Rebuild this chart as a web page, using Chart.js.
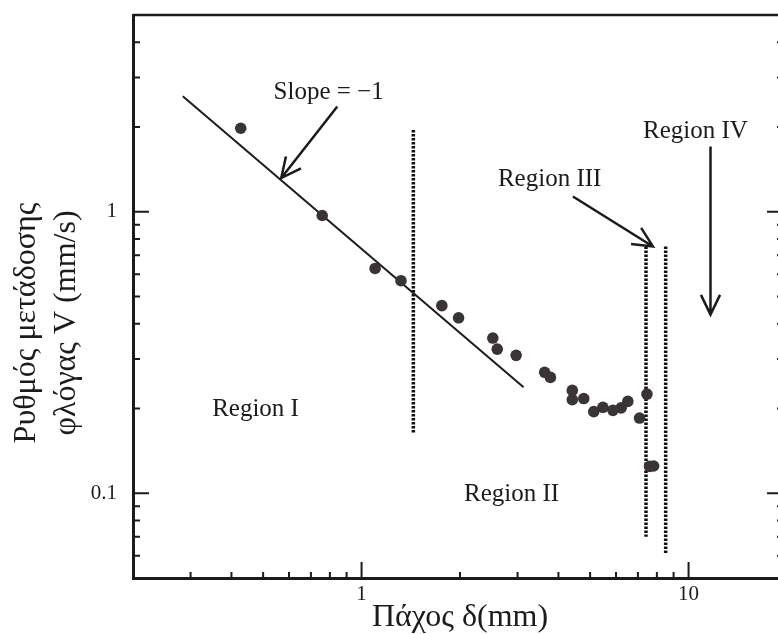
<!DOCTYPE html>
<html>
<head>
<meta charset="utf-8">
<script src="https://cdn.jsdelivr.net/npm/chart.js@4.4.1/dist/chart.umd.min.js"></script>
<style>
  html, body { margin: 0; padding: 0; background: #fff; }
  #wrap { width: 778px; height: 634px; overflow: hidden; }
  canvas { display: block; }
</style>
</head>
<body>
<div id="wrap"><canvas id="flameChart" width="800" height="634"></canvas></div>
<script>
// πάχος δ (mm) και ρυθμός V (mm/s), διαβασμένα από το διάγραμμα
const thickness  = [0.427, 0.758, 1.10, 1.32, 1.76, 1.98, 2.52, 2.60, 2.97, 3.63, 3.78, 4.41,
                    4.41, 4.78, 5.13, 5.47, 5.87, 6.22, 6.52, 7.08, 7.46, 7.60, 7.82];
const spreadRate = [1.98, 0.97, 0.629, 0.569, 0.464, 0.42, 0.356, 0.325, 0.309, 0.269, 0.258, 0.232,
                    0.215, 0.217, 0.195, 0.202, 0.197, 0.201, 0.212, 0.185, 0.225, 0.1246, 0.125];

// ευθεία κλίσης -1
const slopeX = [0.284, 3.13];
const slopeY = [2.57, 0.238];

// διακεκομμένα όρια περιοχών
const boundaryX      = [1.44, 7.41, 8.51];
const boundaryTop    = [1.95, 0.753, 0.753];
const boundaryBottom = [0.164, 0.070, 0.0614];

// υποδιαιρέσεις αξόνων
const xTicks = [0.2, 0.3, 0.4, 0.5, 0.6, 0.7, 0.8, 0.9, 1, 2, 3, 4, 5, 6, 7, 8, 9, 10, 20];
const yTicks = [0.05, 0.06, 0.07, 0.08, 0.09, 0.1, 0.2, 0.3, 0.4, 0.5, 0.6, 0.7, 0.8, 0.9, 1, 2, 3, 4, 5];

// κείμενα και βέλη (σε μονάδες δεδομένων)
const notes = [
  { text: "Slope = \u22121", x: 0.793, y: 2.646 },
  { text: "Region III", x: 3.76, y: 1.30 },
  { text: "Region IV", x: 10.5, y: 1.93 },
  { text: "Region I", x: 0.474, y: 0.198 },
  { text: "Region II", x: 2.875, y: 0.0989 }
];
const arrows = [
  { from: [0.843, 2.366], to: [0.568, 1.317] },
  { from: [4.43, 1.133], to: [7.78, 0.753] },
  { from: [11.67, 1.705], to: [11.67, 0.431] }
];

const INK = "#1c1a1a";
const SERIF = "'Liberation Serif', 'DejaVu Serif', serif";
const TICK_SIZE = 21;
const isDecade = v => Math.abs(Math.log10(v) - Math.round(Math.log10(v))) < 1e-6;

function drawArrow(ctx, x1, y1, x2, y2) {
  const a = Math.atan2(y2 - y1, x2 - x1);
  const len = 22, spread = Math.PI / 7;
  ctx.beginPath();
  ctx.moveTo(x1, y1);
  ctx.lineTo(x2, y2);
  ctx.moveTo(x2 - len * Math.cos(a - spread), y2 - len * Math.sin(a - spread));
  ctx.lineTo(x2, y2);
  ctx.lineTo(x2 - len * Math.cos(a + spread), y2 - len * Math.sin(a + spread));
  ctx.stroke();
}

// πλαίσιο, εσωτερικές υποδιαιρέσεις, σημειώσεις, τίτλος άξονα y
const framePlugin = {
  id: "frame",
  afterDraw(chart) {
    const { ctx, chartArea: ca, scales: { x, y } } = chart;
    ctx.save();
    ctx.strokeStyle = INK;
    ctx.lineWidth = 2.5;
    ctx.beginPath();
    ctx.moveTo(ca.left, ca.top); ctx.lineTo(ca.right, ca.top);
    ctx.moveTo(ca.right, ca.top); ctx.lineTo(ca.right, ca.bottom);
    ctx.stroke();

    ctx.lineWidth = 2;
    ctx.beginPath();
    x.ticks.forEach(t => {
      const px = x.getPixelForValue(t.value);
      const len = isDecade(t.value) ? 16 : 6;
      ctx.moveTo(px, ca.bottom); ctx.lineTo(px, ca.bottom - len);
    });
    y.ticks.forEach(t => {
      const py = y.getPixelForValue(t.value);
      const big = isDecade(t.value);
      ctx.moveTo(ca.left, py); ctx.lineTo(ca.left + (big ? 16 : 7), py);
      ctx.moveTo(ca.right, py); ctx.lineTo(ca.right - (big ? 20 : 10), py);
    });
    ctx.stroke();

    ctx.lineWidth = 2.5;
    arrows.forEach(a => {
      drawArrow(ctx,
        x.getPixelForValue(a.from[0]), y.getPixelForValue(a.from[1]),
        x.getPixelForValue(a.to[0]), y.getPixelForValue(a.to[1]));
    });

    ctx.fillStyle = INK;
    ctx.font = "25px " + SERIF;
    ctx.textAlign = "center";
    ctx.textBaseline = "middle";
    notes.forEach(n => {
      ctx.fillText(n.text, x.getPixelForValue(n.x), y.getPixelForValue(n.y));
    });

    ctx.font = "32px " + SERIF;
    ctx.translate(0, 323);
    ctx.rotate(-Math.PI / 2);
    ctx.fillText("Ρυθμός μετάδοσης", 0, 27);
    ctx.fillText("φλόγας V (mm/s)", 0, 67);
    ctx.restore();
  }
};

const dataPoints = thickness.map((v, i) => ({ x: v, y: spreadRate[i] }));
const slopeLine = slopeX.map((v, i) => ({ x: v, y: slopeY[i] }));
const boundaries = boundaryX.map((v, i) => ({
  type: "line",
  data: [{ x: v, y: boundaryTop[i] }, { x: v, y: boundaryBottom[i] }],
  borderColor: "#111",
  borderWidth: 3.5,
  borderDash: [2.5, 1.5],
  pointRadius: 0,
  fill: false
}));

new Chart(document.getElementById("flameChart"), {
  type: "scatter",
  data: {
    datasets: [
      {
        label: "V",
        data: dataPoints,
        backgroundColor: "#3b3434",
        borderWidth: 0,
        pointRadius: 5.8
      },
      {
        type: "line",
        label: "slope",
        data: slopeLine,
        borderColor: INK,
        borderWidth: 2,
        pointRadius: 0,
        fill: false
      },
      ...boundaries
    ]
  },
  options: {
    responsive: false,
    animation: false,
    layout: { padding: { top: 15, right: 13, left: 0, bottom: 0 } },
    plugins: { legend: { display: false }, tooltip: { enabled: false } },
    scales: {
      x: {
        type: "logarithmic",
        min: 0.2,
        max: 20,
        afterBuildTicks: s => { s.ticks = xTicks.map(v => ({ value: v })); },
        afterFit: s => { s.height = 56; s.paddingLeft = 0; s.paddingRight = 0; },
        grid: { display: false, drawTicks: false },
        border: { display: true, width: 3, color: INK },
        ticks: {
          autoSkip: false,
          maxRotation: 0,
          padding: 4,
          color: INK,
          font: { family: SERIF, size: TICK_SIZE },
          callback: v => (isDecade(v) ? String(v) : "")
        },
        title: {
          display: true,
          text: "Πάχος δ(mm)",
          color: INK,
          font: { family: SERIF, size: 32, lineHeight: 1 },
          padding: { top: 0, bottom: 0 }
        }
      },
      y: {
        type: "logarithmic",
        min: 0.05,
        max: 5,
        afterBuildTicks: s => { s.ticks = yTicks.map(v => ({ value: v })); },
        // no extra room for the empty end labels
        afterFit: s => { s.width = 133; s.paddingTop = 0; s.paddingBottom = 0; },
        grid: { display: false, drawTicks: false },
        border: { display: true, width: 3, color: INK },
        ticks: {
          autoSkip: false,
          padding: 16,
          color: INK,
          font: { family: SERIF, size: TICK_SIZE },
          callback: v => (isDecade(v) ? String(v) : "")
        }
      }
    }
  },
  plugins: [framePlugin]
});
</script>
</body>
</html>
